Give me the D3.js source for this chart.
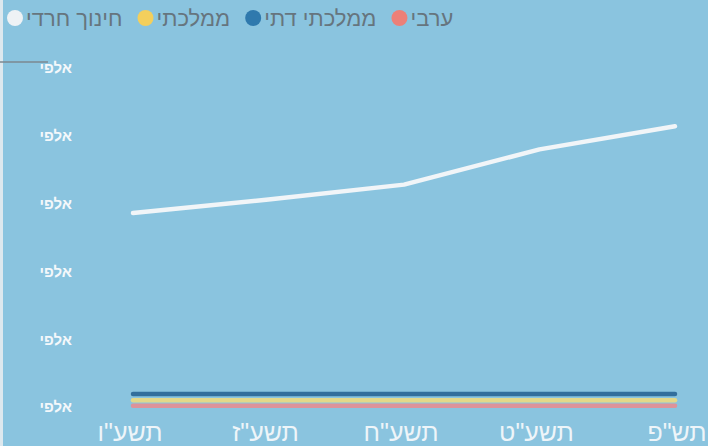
<!DOCTYPE html>
<html lang="he">
<head>
<meta charset="utf-8">
<script src="https://cdn.jsdelivr.net/npm/d3@7"></script>
<style>
  html, body { margin: 0; padding: 0; background: #8bc4df; }
  svg { display: block; }
  text { font-family: "Liberation Sans", "DejaVu Sans", sans-serif; }
</style>
</head>
<body>
<svg id="chart" width="708" height="446"></svg>
<script>
// School years (x axis)
const years = ['תשע"ו', 'תשע"ז', 'תשע"ח', 'תשע"ט', 'תש"פ'];

// Series values per year
const haredi = [143, 153, 164, 190, 207];
const mamlachti = [5, 5, 5, 5, 5];
const mamlachtiDati = [9.5, 9.5, 9.5, 9.5, 9.5];
const aravi = [1, 1, 1, 1, 1];

// Y ticks and their labels
const yTicks = [0, 50, 100, 150, 200, 250];
const yTickLabels = ["אלפי", "אלפי", "אלפי", "אלפי", "אלפי", "אלפי"];

// Legend, left to right
const legendNames = ["חינוך חרדי", "ממלכתי", "ממלכתי דתי", "ערבי"];
const legendColors = ["#eef2f5", "#f3cf5c", "#2f79ad", "#ec8078"];

const series = [
  { name: "ממלכתי דתי", values: mamlachtiDati, color: "#336f9c" },
  { name: "ממלכתי", values: mamlachti, color: "#e3d889" },
  { name: "ערבי", values: aravi, color: "#dd939a" },
  { name: "חינוך חרדי", values: haredi, color: "#f1f5f8" }
];

const svg = d3.select("#chart");
const W = 708, H = 446;

svg.append("rect").attr("width", W).attr("height", H).attr("fill", "#8ac4df");
svg.append("rect").attr("x", 0).attr("y", 0).attr("width", 3).attr("height", H).attr("fill", "#dde8ee");

const x = d3.scalePoint().domain(years).range([133, 675]);
const y = d3.scaleLinear().domain([0, 250]).range([407, 68]);

// Y axis labels
const yAxis = d3.axisLeft(y).tickValues(yTicks).tickSize(0).tickPadding(0)
  .tickFormat((d, i) => yTickLabels[i]);
const yg = svg.append("g").attr("transform", "translate(72,0)").call(yAxis);
yg.select(".domain").remove();
yg.selectAll("text").attr("fill", "#f4f8fb").attr("font-size", 15)
  .attr("font-weight", "bold").attr("direction", "rtl").attr("text-anchor", "start");

// X axis labels, baseline close to the bottom edge
const xAxis = d3.axisBottom(x).tickSize(0).tickPadding(0);
const xg = svg.append("g").attr("transform", "translate(0,441)").call(xAxis);
xg.select(".domain").remove();
xg.selectAll("text").attr("fill", "#eef5f9").attr("font-size", 25).attr("y", 0).attr("dy", 0);
xg.selectAll(".tick").attr("transform", (d, i) => `translate(${x(d) - (i === 4 ? -2 : 3)},0)`);

// Lines
const line = d3.line().x((d, i) => x(years[i])).y(d => y(d)).curve(d3.curveLinear);
svg.append("g").selectAll("path").data(series).join("path")
  .attr("d", s => line(s.values))
  .attr("fill", "none")
  .attr("stroke", s => s.color)
  .attr("stroke-width", 4.5)
  .attr("stroke-linecap", "round")
  .attr("stroke-linejoin", "round");

// Small rule at the top left
svg.append("line").attr("x1", 0).attr("x2", 48).attr("y1", 62).attr("y2", 62)
  .attr("stroke", "#7b8890").attr("stroke-width", 1.5);

// Legend laid out left to right: dot, then its label
const legend = svg.append("g").attr("class", "legend");
const items = legendNames.map((name, i) => {
  const g = legend.append("g");
  g.append("circle").attr("cx", 0).attr("cy", 18).attr("r", 8).attr("fill", legendColors[i]);
  const t = g.append("text")
    .attr("x", 11).attr("y", 26)
    .attr("text-anchor", "start")
    .attr("font-size", 22)
    .attr("fill", "#66757e")
    .text(name);
  return { g, w: 11 + t.node().getComputedTextLength() };
});
const gap = 15;
let cx = 15;
items.forEach(it => { it.g.attr("transform", `translate(${cx},0)`); cx += 8 + it.w + gap; });
</script>
</body>
</html>
